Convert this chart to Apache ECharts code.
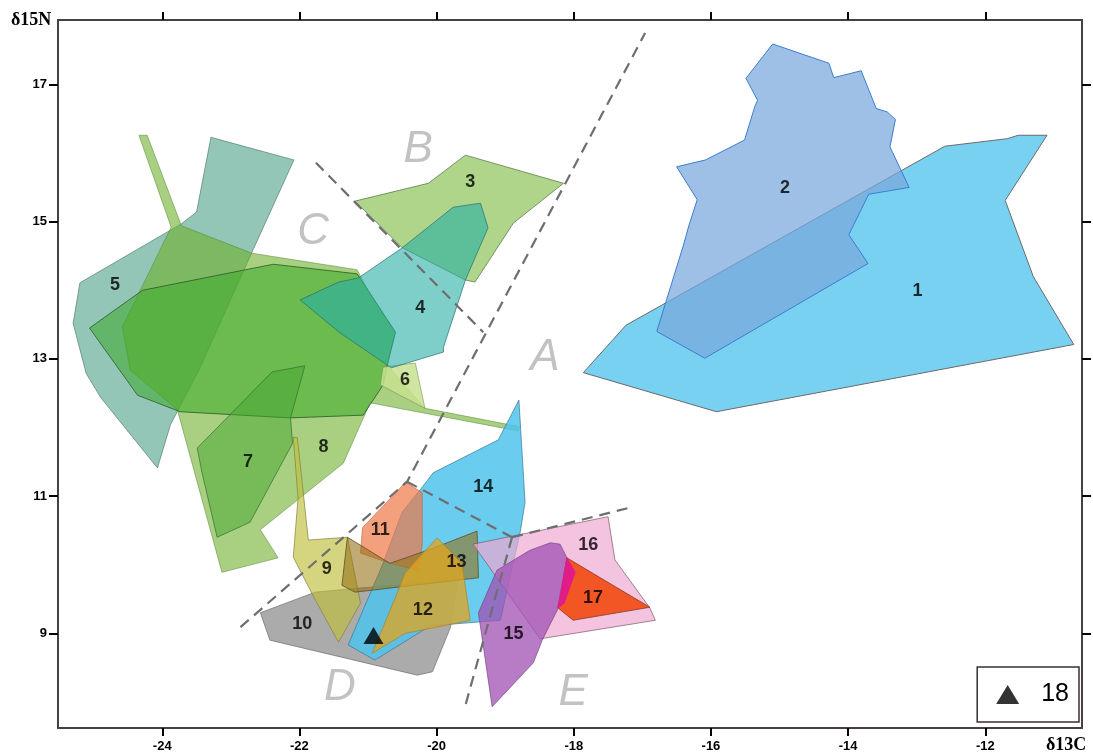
<!DOCTYPE html>
<html>
<head>
<meta charset="utf-8">
<script src="https://cdn.jsdelivr.net/npm/echarts@6/dist/echarts.min.js"></script>
<style>
  html, body { margin: 0; padding: 0; background: #fff; }
  #chart { width: 1093px; height: 756px; }
</style>
</head>
<body>
<div id="chart"></div>
<script>
// Axis ranges and tick values (δ13C on x, δ15N on y)
const xRange = [-25.52, -10.59];
const yRange = [7.62, 17.94];
const xTicks = [-24, -22, -20, -18, -16, -14, -12];
const yTicks = [9, 11, 13, 15, 17];

// Isotopic niche polygons: [δ13C, δ15N] vertices
const zone1 = [[-17.86,12.80],[-17.24,13.49],[-12.59,16.10],[-11.68,16.21],[-11.52,16.26],[-11.10,16.26],[-11.71,15.31],[-11.30,14.20],[-10.71,13.21],[-15.92,12.23]];
const zone2 = [[-15.10,17.59],[-14.28,17.31],[-14.21,17.10],[-13.81,17.20],[-13.59,16.65],[-13.43,16.60],[-13.31,16.49],[-13.39,16.09],[-13.11,15.50],[-13.70,15.40],[-13.99,14.81],[-13.71,14.39],[-16.09,13.01],[-16.79,13.40],[-16.40,14.66],[-16.32,14.95],[-16.20,15.32],[-16.50,15.80],[-16.08,15.90],[-15.51,16.19],[-15.36,16.68],[-15.32,16.77],[-15.49,17.09]];
const zone3 = [[-21.19,15.30],[-20.12,15.56],[-19.58,15.97],[-18.15,15.56],[-18.88,14.98],[-19.44,14.12],[-19.58,14.15],[-20.50,14.62]];
const zone4 = [[-21.99,13.86],[-21.43,14.12],[-21.14,14.18],[-20.50,14.62],[-19.76,15.21],[-19.36,15.27],[-19.25,14.91],[-19.58,14.15],[-19.90,13.17],[-19.90,13.10],[-20.66,12.87],[-21.41,13.38]];
const zone5 = [[-23.29,16.23],[-22.08,15.90],[-22.69,14.56],[-23.45,12.87],[-23.88,12.04],[-24.07,11.41],[-24.90,12.44],[-25.11,12.79],[-25.30,13.52],[-25.20,14.11],[-23.72,14.97],[-23.50,15.14]];
const zone6 = [[-20.78,12.88],[-20.31,12.94],[-20.17,12.28],[-20.82,12.62]];
const zone7 = [[-23.49,11.70],[-22.40,12.81],[-21.92,12.90],[-22.13,12.14],[-22.10,11.77],[-22.72,10.62],[-23.20,10.40],[-23.42,11.34]];
const zone8 = [[-24.34,16.26],[-24.22,16.26],[-23.72,14.94],[-22.69,14.54],[-21.16,14.30],[-21.00,14.00],[-20.60,13.39],[-20.72,12.91],[-20.17,12.28],[-18.78,12.01],[-18.81,11.95],[-20.97,12.36],[-21.36,11.48],[-22.57,10.51],[-22.31,10.10],[-23.13,9.89],[-23.78,12.26],[-24.47,12.84],[-24.58,13.47],[-23.87,14.92]];
const zone8core = [[-25.06,13.45],[-24.29,14.00],[-22.38,14.38],[-21.16,14.24],[-21.00,14.00],[-20.60,13.39],[-20.72,12.91],[-20.78,12.62],[-21.07,12.18],[-22.13,12.14],[-23.74,12.23],[-24.36,12.47]];
const zone9 = [[-22.09,11.86],[-22.03,11.85],[-21.87,10.36],[-21.30,10.40],[-21.11,9.44],[-21.43,8.87],[-21.77,9.49],[-22.09,10.11],[-22.02,10.97]];
const zone10 = [[-22.57,9.30],[-21.77,9.60],[-21.11,9.66],[-19.69,9.78],[-19.80,9.08],[-20.06,8.44],[-20.28,8.39],[-22.43,8.90]];
const zone11 = [[-20.46,11.21],[-20.21,11.05],[-20.21,10.29],[-20.27,9.92],[-20.68,10.02],[-21.11,10.17],[-21.08,10.54],[-20.53,11.12]];
const zone12 = [[-19.99,10.39],[-19.63,10.02],[-19.51,9.19],[-20.05,9.08],[-20.46,9.00],[-20.94,8.71],[-20.78,9.09],[-20.57,9.60],[-20.46,9.88],[-20.20,10.17]];
const zone13 = [[-21.30,10.40],[-20.68,10.02],[-20.05,10.24],[-19.41,10.49],[-19.39,9.81],[-21.19,9.60],[-21.38,9.70]];
const zone14 = [[-18.80,12.40],[-18.71,10.91],[-18.78,10.48],[-19.07,9.19],[-20.09,9.11],[-20.90,8.61],[-21.29,8.83],[-20.78,10.02],[-20.50,10.77],[-20.24,11.09],[-20.05,11.34],[-19.10,11.82]];
const zone15 = [[-18.34,10.32],[-18.20,10.30],[-18.10,10.10],[-18.24,9.34],[-18.46,8.90],[-18.59,8.57],[-19.19,7.93],[-19.39,9.30],[-19.12,9.92],[-18.64,10.21]];
const zone16 = [[-19.47,10.30],[-17.50,10.70],[-17.40,10.07],[-16.89,9.37],[-16.81,9.19],[-18.49,8.92]];
const zone17 = [[-18.10,10.10],[-16.89,9.38],[-18.01,9.19],[-18.23,9.37],[-18.17,9.63]];
const zone17edge = [[-18.10,10.10],[-17.98,9.89],[-18.14,9.44],[-18.23,9.37],[-18.17,9.70]];

// Group 18 sample point
const point18 = [[-20.92, 8.97]];

// Zone numbers and their positions
const zoneLabels = [
  ['1', -12.99, 13.99], ['2', -14.92, 15.49], ['3', -19.51, 15.58], ['4', -20.24, 13.74],
  ['5', -24.69, 14.08], ['6', -20.46, 12.69], ['7', -22.75, 11.50], ['8', -21.65, 11.72],
  ['9', -21.60, 9.94], ['10', -21.96, 9.14], ['11', -20.82, 10.51], ['12', -20.20, 9.34],
  ['13', -19.71, 10.04], ['14', -19.32, 11.13], ['15', -18.88, 8.99], ['16', -17.79, 10.29],
  ['17', -17.72, 9.51]
];

// Trophic group letters
const groupLabels = [
  ['A', -18.42, 13.01], ['B', -20.27, 16.05], ['C', -21.80, 14.85], ['D', -21.41, 8.20], ['E', -18.01, 8.14]
];

// Dashed group boundaries
const boundaryMain = [[-22.86, 9.09], [-20.43, 11.21], [-16.96, 17.75]];
const boundaryBC = [[-21.76, 15.86], [-19.32, 13.39]];
const boundaryAD = [[-20.43, 11.21], [-18.90, 10.40]];
const boundaryDE = [[-18.90, 10.40], [-19.58, 7.95]];
const boundaryAE = [[-18.90, 10.40], [-17.15, 10.84]];

const FONT = '"Liberation Sans", Arial, sans-serif';
const SERIF = '"Liberation Serif", "Times New Roman", serif';

function zoneSeries(pts, fill, stroke, width) {
  return {
    type: 'custom',
    coordinateSystem: 'cartesian2d',
    silent: true,
    data: pts,
    encode: { x: 0, y: 1 },
    renderItem: function (params, api) {
      if (params.dataIndex !== 0) return null;
      const points = pts.map(p => api.coord(p));
      return {
        type: 'polygon',
        shape: { points: points },
        style: { fill: fill, stroke: stroke, lineWidth: width || 1 }
      };
    }
  };
}

function dashSeries(pts) {
  return {
    type: 'line',
    data: pts,
    symbol: 'none',
    silent: true,
    lineStyle: { color: '#6e6e6e', width: 2.2, type: [11, 7] }
  };
}

const axisLineStyle = { color: '#4a4040', width: 2 };
const tickLabel = { color: '#000', fontSize: 13, fontWeight: 'bold', fontFamily: FONT };

const option = {
  animation: false,
  grid: { left: 58, top: 20, right: 11, bottom: 28, containLabel: false },
  xAxis: [
    {
      type: 'value', min: xRange[0], max: xRange[1], position: 'bottom',
      splitLine: { show: false },
      axisLine: { onZero: false, lineStyle: axisLineStyle },
      axisTick: { show: true, length: 8, lineStyle: { color: '#000', width: 2 }, customValues: xTicks },
      axisLabel: Object.assign({ customValues: xTicks, margin: 12 }, tickLabel)
    },
    {
      type: 'value', min: xRange[0], max: xRange[1], position: 'top',
      splitLine: { show: false },
      axisLine: { onZero: false, lineStyle: axisLineStyle },
      axisTick: { show: true, length: 8, lineStyle: { color: '#000', width: 2 }, customValues: xTicks },
      axisLabel: { show: false }
    }
  ],
  yAxis: [
    {
      type: 'value', min: yRange[0], max: yRange[1], position: 'left',
      splitLine: { show: false },
      axisLine: { onZero: false, lineStyle: axisLineStyle },
      axisTick: { show: true, length: 9, lineStyle: { color: '#000', width: 2 }, customValues: yTicks },
      axisLabel: Object.assign({ customValues: yTicks, margin: 11 }, tickLabel)
    },
    {
      type: 'value', min: yRange[0], max: yRange[1], position: 'right',
      splitLine: { show: false },
      axisLine: { onZero: false, lineStyle: axisLineStyle },
      axisTick: { show: true, length: 9, lineStyle: { color: '#000', width: 2 }, customValues: yTicks },
      axisLabel: { show: false }
    }
  ],
  legend: {
    data: [{ name: '18', icon: 'triangle', itemStyle: { color: '#000' } }],
    right: 14, bottom: 34,
    orient: 'horizontal',
    padding: [15, 10, 15, 19],
    backgroundColor: '#fff',
    borderColor: '#3a3030',
    borderWidth: 1.5,
    itemWidth: 23,
    itemHeight: 19,
    itemGap: 0,
    textStyle: { fontSize: 25, color: '#000', fontFamily: FONT, padding: [0, 0, 0, 17] }
  },
  graphic: [
    { type: 'text', left: 11, top: 11, style: { text: 'δ15N', font: 'bold 18px ' + SERIF, fill: '#000' } },
    { type: 'text', left: 1046, top: 736, style: { text: 'δ13C', font: 'bold 18px ' + SERIF, fill: '#000' } }
  ],
  series: [
    zoneSeries(zone1, 'rgba(110,205,240,0.92)', '#6a6a6a'),
    zoneSeries(zone2, 'rgba(121,168,220,0.72)', '#3a7dd0'),
    zoneSeries(zone5, 'rgba(77,160,137,0.6)', 'rgba(70,110,100,0.6)'),
    zoneSeries(zone8, 'rgba(110,177,43,0.6)', 'rgba(80,130,50,0.5)'),
    zoneSeries(zone8core, 'rgba(60,170,40,0.55)', 'rgba(40,90,40,0.8)'),
    zoneSeries(zone7, 'rgba(70,165,50,0.5)', 'rgba(50,110,50,0.7)'),
    zoneSeries(zone6, 'rgba(200,225,145,0.85)', 'rgba(120,150,80,0.6)'),
    zoneSeries(zone3, 'rgba(120,185,60,0.6)', 'rgba(80,110,60,0.7)'),
    zoneSeries(zone4, 'rgba(40,175,165,0.6)', 'rgba(40,110,110,0.7)'),
    zoneSeries(zone10, 'rgba(150,150,150,0.8)', 'rgba(110,110,110,0.7)'),
    zoneSeries(zone9, 'rgba(190,190,60,0.65)', 'rgba(130,130,60,0.7)'),
    zoneSeries(zone14, 'rgba(80,195,235,0.85)', 'rgba(60,120,150,0.7)'),
    zoneSeries(zone11, 'rgba(240,120,70,0.7)', 'rgba(180,100,60,0.6)'),
    zoneSeries(zone13, 'rgba(150,115,25,0.6)', 'rgba(90,80,40,0.8)'),
    zoneSeries(zone12, 'rgba(225,165,30,0.75)', 'rgba(170,130,40,0.7)'),
    zoneSeries(zone16, 'rgba(240,170,210,0.7)', 'rgba(120,90,100,0.7)'),
    zoneSeries(zone15, 'rgba(160,80,180,0.75)', 'rgba(120,70,130,0.7)'),
    zoneSeries(zone17, 'rgba(240,80,25,0.95)', 'rgba(120,50,30,0.7)'),
    zoneSeries(zone17edge, 'rgba(225,25,140,0.95)', 'rgba(225,25,140,0.95)'),
    dashSeries(boundaryMain),
    dashSeries(boundaryBC),
    dashSeries(boundaryAD),
    dashSeries(boundaryDE),
    dashSeries(boundaryAE),
    {
      type: 'scatter', silent: true, symbolSize: 1,
      itemStyle: { color: 'rgba(0,0,0,0)' },
      data: groupLabels.map(d => ({ name: d[0], value: [d[1], d[2]] })),
      label: { show: true, position: 'inside', formatter: '{b}', color: '#b3b3b3', textBorderWidth: 0, fontSize: 44, fontStyle: 'italic', fontFamily: FONT }
    },
    {
      type: 'scatter', silent: true, symbolSize: 1,
      itemStyle: { color: 'rgba(0,0,0,0)' },
      data: zoneLabels.map(d => ({ name: d[0], value: [d[1], d[2]] })),
      label: { show: true, position: 'inside', formatter: '{b}', color: '#000', textBorderWidth: 0, fontSize: 18, fontWeight: 'bold', fontFamily: FONT }
    },
    {
      name: '18', type: 'scatter', symbol: 'triangle', symbolSize: [20, 17],
      itemStyle: { color: '#000' },
      data: point18
    }
  ]
};

const chart = echarts.init(document.getElementById('chart'), null, { renderer: 'canvas' });
chart.setOption(option);
</script>
</body>
</html>
